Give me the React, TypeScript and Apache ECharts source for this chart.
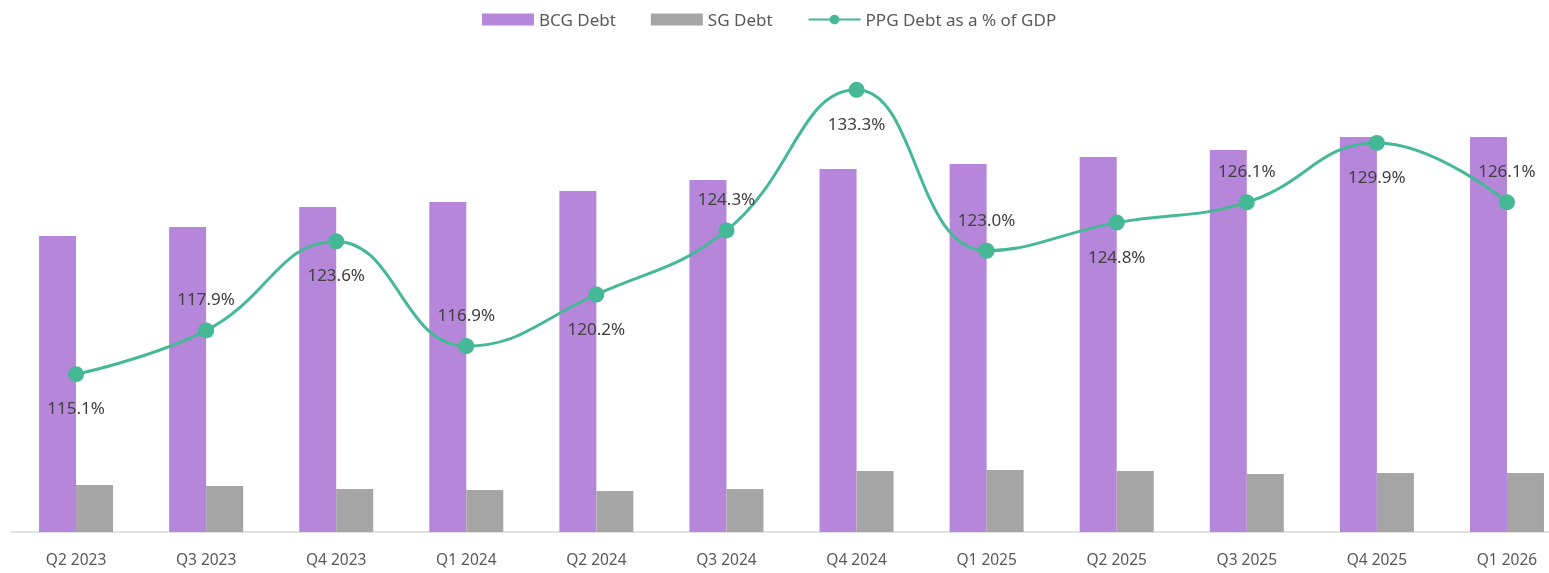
import React, { useEffect, useRef } from "react";
import * as echarts from "echarts";

const categories = ["Q2 2023", "Q3 2023", "Q4 2023", "Q1 2024", "Q2 2024", "Q3 2024", "Q4 2024", "Q1 2025", "Q2 2025", "Q3 2025", "Q4 2025", "Q1 2026"];
const bcgDebt = [296, 305, 325, 330, 341, 352, 363, 368, 375, 382, 395, 395];
const sgDebt = [47, 46, 43, 42, 41, 43, 61, 62, 61, 58, 59, 59];
const ppgPct = [115.1, 117.9, 123.6, 116.9, 120.2, 124.3, 133.3, 123.0, 124.8, 126.1, 129.9, 126.1];
const labelBelow = [true, false, true, false, true, false, true, false, true, false, true, false];

const FONT = "'Noto Sans', 'Open Sans', sans-serif";

export default function App() {
  const ref = useRef<HTMLDivElement>(null);
  useEffect(() => {
    document.body.style.margin = "0";
    document.body.style.overflow = "hidden";
    const chart = echarts.init(ref.current!, null, { renderer: "svg" });
    chart.setOption({
      animation: false,
      textStyle: { fontFamily: FONT },
      legend: {
        top: 6,
        left: 477,
        itemWidth: 52,
        itemHeight: 12,
        itemGap: 35,
        textStyle: { fontSize: 17, color: "#595959", fontFamily: FONT },
        data: [
          { name: "BCG Debt", icon: "rect" },
          { name: "SG Debt", icon: "rect" },
          { name: "PPG Debt as a % of GDP" },
        ],
      },
      grid: { left: 11, top: 32, width: 1561, height: 500, containLabel: false },
      xAxis: {
        type: "category",
        data: categories,
        axisLine: { lineStyle: { color: "#D9D9D9", width: 1.5 } },
        axisTick: { show: false },
        axisLabel: { color: "#595959", fontSize: 15.5, margin: 19, fontFamily: FONT },
      },
      yAxis: [
        { type: "value", min: 0, max: 500, show: false, splitLine: { show: false } },
        { type: "value", min: 105, max: 137, show: false, splitLine: { show: false } },
      ],
      series: [
        {
          name: "BCG Debt",
          type: "bar",
          data: bcgDebt,
          barWidth: 37,
          barGap: "0%",
          itemStyle: { color: "#B586D9" },
        },
        {
          name: "SG Debt",
          type: "bar",
          data: sgDebt,
          barWidth: 37,
          barGap: "0%",
          itemStyle: { color: "#A5A5A5" },
        },
        {
          name: "PPG Debt as a % of GDP",
          type: "line",
          yAxisIndex: 1,
          smooth: 0.45,
          symbol: "circle",
          symbolSize: 16,
          lineStyle: { color: "#45B995", width: 3 },
          itemStyle: { color: "#45B995" },
          data: ppgPct.map((v, i) => ({
            value: v,
            label: {
              show: true,
              position: labelBelow[i] ? "bottom" : "top",
              distance: labelBelow[i] ? 17 : 15,
              formatter: (p: any) => p.value.toFixed(1) + "%",
              color: "#404040",
              fontSize: 17,
              fontFamily: FONT,
            },
          })),
        },
      ],
    });
    return () => chart.dispose();
  }, []);
  return <div ref={ref} style={{ position: "fixed", left: 0, top: 0, width: 1600, height: 573 }} />;
}
